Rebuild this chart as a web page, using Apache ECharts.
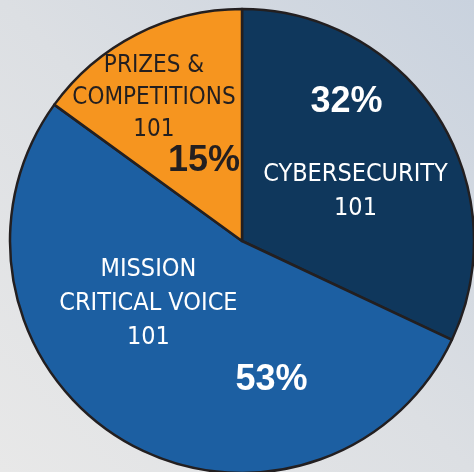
<!DOCTYPE html>
<html>
<head>
<meta charset="utf-8">
<style>
html,body{margin:0;padding:0;}
#chart{width:474px;height:472px;}
</style>
<script src="https://cdn.jsdelivr.net/npm/echarts@6/dist/echarts.min.js"></script>
</head>
<body>
<div id="chart"></div>
<script>
// Data
var categories = ['CYBERSECURITY\n101', 'MISSION\nCRITICAL VOICE\n101', 'PRIZES &\nCOMPETITIONS\n101'];
var shares = [32, 53, 15];

// Styling (not data)
var sliceColors = ['#0F375C', '#1C5FA2', '#F6951F'];
var textColors = ['#FFFFFF', '#FFFFFF', '#231F20'];
var nameSizes = [25, 25, 24];
var nameLineHeights = [34, 34, 32];
var nameOffsets = [[13, 14], [-33, -40], [-34, -37]];
var pctOffsets = [[4, -75], [90, 37], [16, 26]];

var narrow = "'Liberation Sans Narrow', 'DejaVu Sans Condensed', 'Liberation Sans', sans-serif";

var nameData = categories.map(function (c, i) {
  return {
    name: c,
    value: shares[i],
    itemStyle: { color: sliceColors[i] },
    label: {
      color: textColors[i],
      fontSize: nameSizes[i],
      lineHeight: nameLineHeights[i],
      offset: nameOffsets[i]
    }
  };
});
var pctData = categories.map(function (c, i) {
  return {
    name: c,
    value: shares[i],
    label: { color: textColors[i], offset: pctOffsets[i] }
  };
});

var chart = echarts.init(document.getElementById('chart'), null, { renderer: 'canvas' });
chart.setOption({
  animation: false,
  backgroundColor: {
    type: 'linear', x: 1, y: 0, x2: 0, y2: 1,
    colorStops: [
      { offset: 0, color: '#C9D2DE' },
      { offset: 0.5, color: '#DCDFE3' },
      { offset: 1, color: '#E8E8E8' }
    ]
  },
  series: [
    {
      type: 'pie',
      center: [242, 241],
      radius: [0, 232],
      startAngle: 90,
      clockwise: true,
      silent: true,
      avoidLabelOverlap: false,
      labelLayout: { hideOverlap: false },
      itemStyle: { borderColor: '#231F20', borderWidth: 2.5 },
      label: {
        show: true,
        position: 'inside',
        formatter: '{b}',
        fontFamily: narrow,
        align: 'center'
      },
      labelLine: { show: false },
      emphasis: { disabled: true },
      data: nameData
    },
    {
      type: 'pie',
      center: [242, 241],
      radius: [0, 232],
      startAngle: 90,
      clockwise: true,
      silent: true,
      avoidLabelOverlap: false,
      labelLayout: { hideOverlap: false },
      z: 3,
      itemStyle: { color: 'rgba(0,0,0,0)', borderWidth: 0 },
      label: {
        show: true,
        position: 'inside',
        formatter: function (p) { return p.value + '%'; },
        fontFamily: "'Liberation Sans', Arial, sans-serif",
        fontWeight: 'bold',
        fontSize: 36
      },
      labelLine: { show: false },
      emphasis: { disabled: true },
      data: pctData
    }
  ]
});
</script>
</body>
</html>
